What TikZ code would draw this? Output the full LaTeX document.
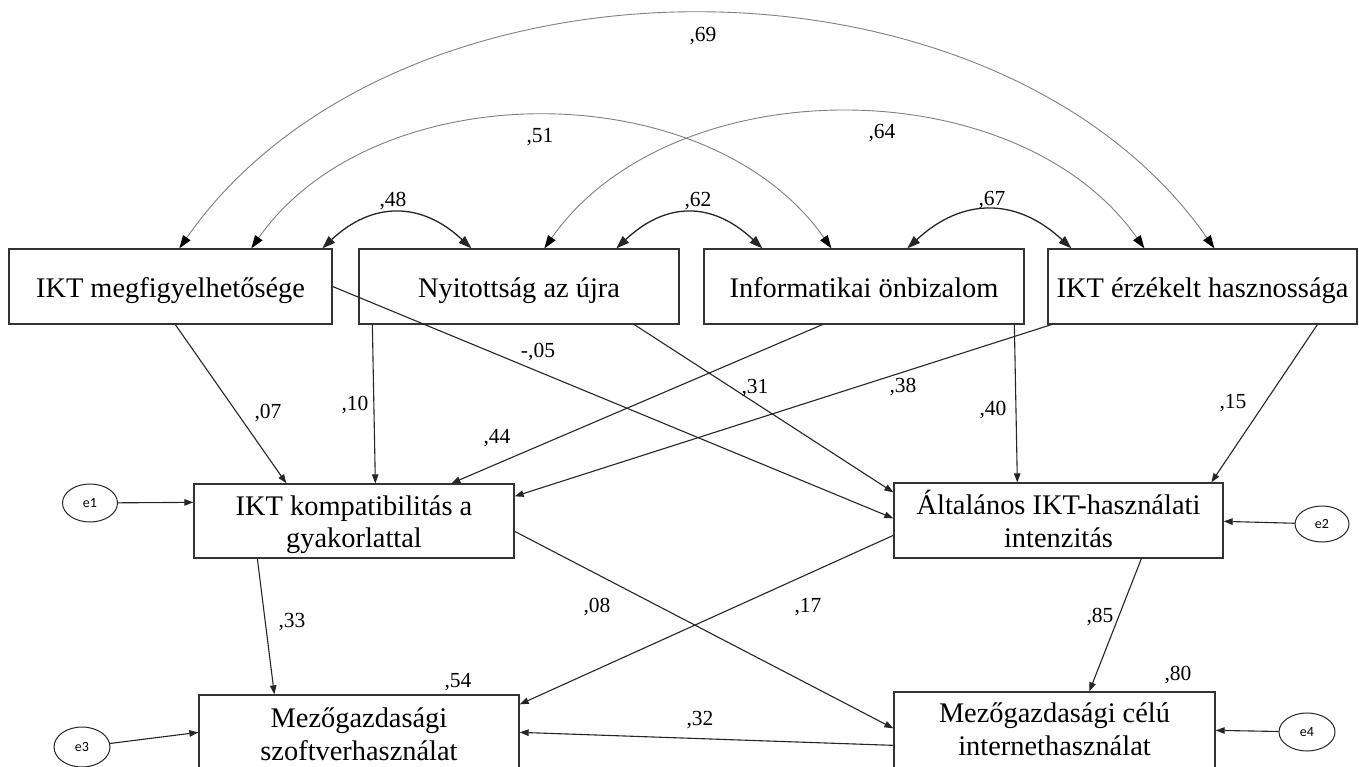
\documentclass[tikz,border=0pt]{standalone}
\usepackage{fontspec}
\setmainfont{Liberation Serif}
\newfontfamily\esans{Carlito}
\usetikzlibrary{arrows.meta,shapes.geometric}
\begin{document}
\begin{tikzpicture}[x=1pt,y=-1pt,
  box/.style={draw=black!80, line width=1.3pt, inner sep=0pt, minimum height=75pt},
  bt/.style={font=\fontsize{28.4}{32}\selectfont, inner sep=0pt, anchor=base},
  lab/.style={font=\fontsize{21.5}{24}\selectfont, inner sep=0pt},
  errv/.style={draw=black!85, line width=1pt, ellipse, inner sep=0pt, font=\esans\fontsize{14}{16}\selectfont},
  arr/.style={draw=black!85, line width=1.1pt, -{Triangle[length=9pt,width=6.5pt]}},
  cvs/.style={draw=black!85, line width=1.3pt, {Triangle[length=13pt,width=9pt]}-{Triangle[length=13pt,width=9pt]}},
  cvl/.style={draw=black!50, line width=0.9pt, {Triangle[length=13pt,width=9pt,color=black]}-{Triangle[length=13pt,width=9pt,color=black]}}
]
\useasboundingbox (0,0) rectangle (1359,767);
\fill[white] (0,0) rectangle (1359,767);

% boxes
\node[box, minimum width=323pt] (A) at (170.5,286.5) {};
\node[box, minimum width=320pt] (B) at (519,286.5) {};
\node[box, minimum width=320pt] (C) at (864,286.5) {};
\node[box, minimum width=309pt] (D) at (1202.5,286.5) {};
\node[box, minimum width=320pt, minimum height=74pt] (E) at (354,521) {};
\node[box, minimum width=329pt] (F) at (1058.5,520.5) {};
\node[box, minimum width=320pt] (G) at (359,732.5) {};
\node[box, minimum width=321pt, minimum height=78pt] (H) at (1054.5,731) {};

% box texts
\node[bt] (At) at (170.5,298) {IKT megfigyelhetősége};
\node[bt] (Bt) at (519,298) {Nyitottság az újra};
\node[bt] (Ct) at (864,298) {Informatikai önbizalom};
\node[bt] (Dt) at (1202.5,298) {IKT érzékelt hasznossága};
\node[bt] (Et1) at (354,515) {IKT kompatibilitás a};
\node[bt] (Et2) at (354,547) {gyakorlattal};
\node[bt] (Ft1) at (1058.5,514) {Általános IKT-használati};
\node[bt] (Ft2) at (1058.5,547) {intenzitás};
\node[bt] (Gt1) at (359,727) {Mezőgazdasági};
\node[bt] (Gt2) at (359,760) {szoftverhasználat};
\node[bt] (Ht1) at (1054.5,722) {Mezőgazdasági célú};
\node[bt] (Ht2) at (1054.5,755) {internethasználat};

% error terms
\node[errv, minimum width=55pt, minimum height=38pt] (e1) at (90,503) {e1};
\node[errv, minimum width=56pt, minimum height=40pt] (e3) at (82,747) {e3};
\node[errv, minimum width=54pt, minimum height=36pt] (e2) at (1322,524) {e2};
\node[errv, minimum width=56pt, minimum height=38pt] (e4) at (1307,732) {e4};

\draw[arr] (e1) -- ([yshift=-19pt]E.north west);
\draw[arr] (e3) -- ([yshift=-38pt]G.north west);
\draw[arr] (e2) -- ([yshift=-39pt]F.north east);
\draw[arr] (e4) -- ([yshift=-39pt]H.north east);

% paths
\draw[arr] ([xshift=167pt]A.south west) -- ([xshift=93pt]E.north west);
\draw[arr] ([xshift=14pt]B.south west) -- ([xshift=182pt]E.north west);
\draw[arr] (A.east) -- ([yshift=-36pt]F.north west);
\draw[arr] ([xshift=276pt]B.south west) -- ([yshift=-10pt]F.north west);
\draw[arr] ([xshift=119pt]C.south west) -- ([xshift=258pt]E.north west);
\draw[arr] ([xshift=4pt]D.south west) -- ([yshift=-13pt]E.north east);
\draw[arr] ([xshift=311pt]C.south west) -- ([xshift=124pt]F.north west);
\draw[arr] ([xshift=270pt]D.south west) -- ([xshift=318pt]F.north west);
\draw[arr] ([xshift=64pt]E.south west) -- ([xshift=76pt]G.north west);
\draw[arr] ([yshift=-48pt]E.north east) -- ([yshift=-37pt]H.north west);
\draw[arr] ([yshift=-53pt]F.north west) -- ([yshift=-10pt]G.north east);
\draw[arr] ([xshift=248pt]F.south west) -- ([xshift=196pt]H.north west);
\draw[arr] ([yshift=-54pt]H.north west) -- ([yshift=-38pt]G.north east);

% covariances
\draw[cvl] ([xshift=171pt]A.north west) .. controls +(218,-312) and +(-218,-312) .. ([xshift=167pt]D.north west);
\draw[cvl] ([xshift=243pt]A.north west) .. controls +(123,-176) and +(-123,-176) .. ([xshift=128pt]C.north west);
\draw[cvl] ([xshift=186pt]B.north west) .. controls +(127,-181) and +(-127,-181) .. ([xshift=97pt]D.north west);
\draw[cvs] ([xshift=314pt]A.north west) .. controls +(50,-47) and +(-50,-47) .. ([xshift=113pt]B.north west);
\draw[cvs] ([xshift=258pt]B.north west) .. controls +(50,-47) and +(-50,-47) .. ([xshift=59pt]C.north west);
\draw[cvs] ([xshift=204pt]C.north west) .. controls +(55,-51) and +(-55,-51) .. ([xshift=24pt]D.north west);

% labels
\node[lab] (l69) at (703,36) {,69};
\node[lab] (l51) at (540,137) {,51};
\node[lab] (l64) at (882,133) {,64};
\node[lab] (l48) at (393,201) {,48};
\node[lab] (l62) at (698,201) {,62};
\node[lab] (l67) at (992,200) {,67};
\node[lab] (l07) at (268,413) {,07};
\node[lab] (l10) at (355,405) {,10};
\node[lab] (l05) at (538,352) {-,05};
\node[lab] (l31) at (755,388) {,31};
\node[lab] (l44) at (497,438) {,44};
\node[lab] (l38) at (903,387) {,38};
\node[lab] (l40) at (993,410) {,40};
\node[lab] (l15) at (1233,403) {,15};
\node[lab] (l33) at (292,622) {,33};
\node[lab] (l08) at (597,607) {,08};
\node[lab] (l17) at (808,607) {,17};
\node[lab] (l85) at (1100,617) {,85};
\node[lab] (l54) at (458,682) {,54};
\node[lab] (l80) at (1178,675) {,80};
\node[lab] (l32) at (700,720) {,32};
\end{tikzpicture}
\end{document}
